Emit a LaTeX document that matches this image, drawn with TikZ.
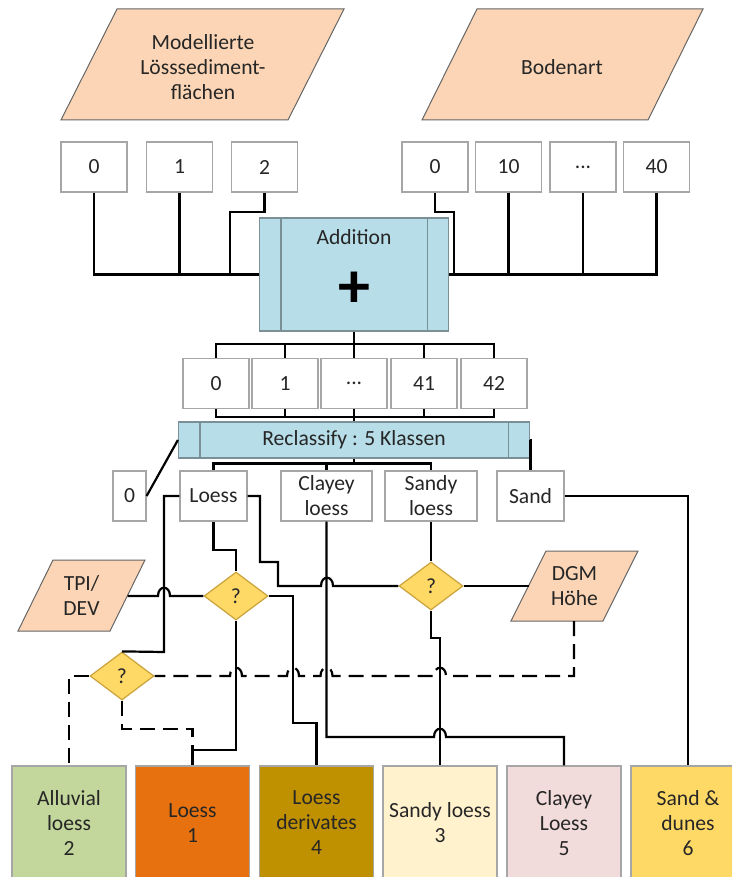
\documentclass[tikz,border=0pt]{standalone}
\usepackage{fontspec}
\setmainfont{Carlito}
\usetikzlibrary{shapes.geometric}

\definecolor{inputpeach}{HTML}{FBD5B5}
\definecolor{procblue}{HTML}{B7DDE8}
\definecolor{decidefill}{HTML}{FFD966}
\definecolor{decideline}{HTML}{C9A23A}
\definecolor{boxline}{HTML}{A6A6A6}
\definecolor{procline}{HTML}{7A8F96}
\definecolor{txt}{HTML}{262626}
\definecolor{clsalluv}{HTML}{C3D69B}
\definecolor{clsloess}{HTML}{E8710F}
\definecolor{clsderiv}{HTML}{BF9000}
\definecolor{clssandy}{HTML}{FFF2CC}
\definecolor{clsclay}{HTML}{F2DCDB}
\definecolor{clssand}{HTML}{FFD966}

\begin{document}
\begin{tikzpicture}[x=0.5pt, y=-0.5pt,
  font=\fontsize{10.8}{12.5}\selectfont, text=txt,
  valbox/.style={draw=boxline, line width=0.6pt, fill=white, minimum width=33pt,
    minimum height=25pt, inner sep=1pt, align=center},
  procbox/.style={draw=procline, line width=0.6pt, fill=procblue, inner sep=1pt},
  inputshape/.style={draw=gray!80!black, line width=0.5pt, fill=inputpeach},
  decide/.style={diamond, draw=decideline, line width=0.6pt, fill=decidefill,
    minimum width=32pt, minimum height=24pt, inner sep=0pt},
  classbox/.style={draw=boxline, line width=0.6pt, minimum width=57pt,
    minimum height=57pt, inner sep=1pt, align=center},
  conn/.style={line width=1.1pt, black},
  dashconn/.style={conn, dash pattern=on 7.5pt off 4pt}]

\useasboundingbox (0,0) rectangle (732,877);
\clip (0,0) rectangle (732,877);

% --- input layers ---
\path[inputshape] (117,9) -- (344,9) -- (288,120) -- (61,120) -- cycle;
\node[align=center] (lss) at (203,67) {Modellierte\\Lösssediment-\\flächen};
\path[inputshape] (477,9) -- (703,9) -- (648,120) -- (422,120) -- cycle;
\node (bodenart) at (562,67) {Bodenart};

% --- value boxes of the two inputs ---
\node[valbox] (a0) at (94,167) {0};
\node[valbox] (a1) at (179.5,167) {1};
\node[valbox] (a2) at (264.5,167) {2};
\node[valbox] (b0) at (435,167) {0};
\node[valbox] (b10) at (508.5,167) {10};
\node[valbox] (bdots) at (583,167) {...};
\node[valbox] (b40) at (656.5,167) {40};

% --- addition step ---
\node[procbox, minimum width=94.5pt, minimum height=56.5pt] (add) at (354,274.5) {};
\draw[procline, line width=0.6pt] ([xshift=11pt]add.north west) -- ([xshift=11pt]add.south west);
\draw[procline, line width=0.6pt] ([xshift=-11pt]add.north east) -- ([xshift=-11pt]add.south east);
\node (addlbl) at (354,237) {Addition};
\node[font=\fontsize{32}{32}\selectfont\bfseries, text=black] (plus) at (354,290) {+};

\draw[conn] (a0.south) |- (add.west);
\draw[conn] (a1.south) -- (a1.south |- add.west);
\draw[conn] (a2.south) |- (230,212) |- (add.west);
\draw[conn] (b0.south) |- (454,212) |- (add.east);
\draw[conn] (add.east) -| (b40.south);
\draw[conn] (b10.south) -- (b10.south |- add.east);
\draw[conn] (bdots.south) -- (bdots.south |- add.east);

% --- summed values ---
\node[valbox] (c0) at (216,383.5) {0};
\node[valbox] (c1) at (285,383.5) {1};
\node[valbox] (cdots) at (354,383.5) {...};
\node[valbox] (c41) at (424,383.5) {41};
\node[valbox] (c42) at (494,383.5) {42};

\draw[conn] (add.south) -- (cdots.north);
\draw[conn] (c0.north) -- ++(0,-14) -| (c42.north);
\draw[conn] (c1.north) -- ++(0,-14);
\draw[conn] (c41.north) -- ++(0,-14);

% --- reclassification ---
\node[procbox, minimum width=175.5pt, minimum height=18pt] (rec) at (354,440) {Reclassify : 5 Klassen};
\draw[procline, line width=0.6pt] ([xshift=11pt]rec.north west) -- ([xshift=11pt]rec.south west);
\draw[procline, line width=0.6pt] ([xshift=-11pt]rec.north east) -- ([xshift=-11pt]rec.south east);

\draw[conn] (c0.south) -- ++(0,8) -| (c42.south);
\draw[conn] (c1.south) -- ++(0,8);
\draw[conn] (c41.south) -- ++(0,8);
\draw[conn] (cdots.south) -- (rec.north);

% --- five classes ---
\node[valbox, minimum width=16.5pt] (zero) at (129.5,496) {0};
\node[valbox, minimum width=33.5pt] (loess) at (213.5,496) {Loess};
\node[valbox, minimum width=45.5pt] (clayey) at (326.5,496) {Clayey\\loess};
\node[valbox, minimum width=46pt] (sandy) at (431,496) {Sandy\\loess};
\node[valbox, minimum width=33.5pt] (sand) at (530.5,496) {Sand};

\draw[conn] (zero.east) -- (rec.west);
\draw[conn] (rec.south) -- ++(0,6);
\draw[conn] (loess.north) -- ++(0,-7) -| (sandy.north);
\draw[conn] (clayey.north) -- ++(0,-7);
\draw[conn] (rec.east) -| (sand.north);

% --- additional inputs ---
\path[inputshape] (53,560) -- (145,560) -- (110,631) -- (18,631) -- cycle;
\node[align=center] (tpi) at (81.5,595.5) {TPI/\\DEV};
\coordinate (tpiR) at (127.5,596);
\path[inputshape] (546,551) -- (638,551) -- (603,621) -- (511,621) -- cycle;
\node[align=center] (dgm) at (574.5,586) {DGM\\Höhe};
\coordinate (dgmL) at (528.5,586);
\coordinate (dgmB) at (574,621);

% --- decisions ---
\node[decide] (d1) at (236,596) {?};
\node[decide] (d2) at (122,676) {?};
\node[decide] (d3) at (431,586) {?};

% --- final classes ---
\node[classbox, fill=clsalluv] (alluv) at (69,823) {Alluvial\\loess\\2};
\node[classbox, fill=clsloess] (cl1) at (192.5,823) {Loess\\1};
\node[classbox, fill=clsderiv] (cl4) at (316.5,823) {Loess\\derivates\\4};
\node[classbox, fill=clssandy] (cl3) at (440,823) {Sandy loess\\3};
\node[classbox, fill=clsclay] (cl5) at (564,823) {Clayey\\Loess\\5};
\node[classbox, fill=clssand] (cl6) at (688,823) {Sand \&\\dunes\\6};

\coordinate (j1) at (192.5,750);

% --- decision wiring ---
\draw[conn] (tpiR) -- (158,596) .. controls (158,585) and (170,585) .. (170,596) -- (d1.west);
\draw[conn] (loess.west) -| (164,652) -- (d2.north);
\draw[conn] (loess.south) -- ++(0,28) -| (d1.north);
\draw[conn] (loess.east) -| (260,562) -| (278,586) -- (321,586)
  .. controls (321,575) and (333,575) .. (333,586) -- (d3.west);
\draw[conn] (clayey.south) |- (434,737) .. controls (434,726) and (446,726) .. (446,737) -| (cl5.north);
\draw[conn] (sandy.south) -- (d3.north);
\draw[conn] (d3.east) -- (dgmL);
\draw[conn] (d3.south) |- (440,638) -- (cl3.north);
\draw[conn] (d1.south) |- (j1) -- (cl1.north);
\draw[conn] (d1.east) -| (293,723) -| (cl4.north);
\draw[conn] (sand.east) -| (cl6.north);

\draw[dashconn] (dgmB) |- (446,676) .. controls (446,665) and (434,665) .. (434,676)
  -- (332.5,676) .. controls (332.5,665) and (320.5,665) .. (320.5,676)
  -- (299,676) .. controls (299,665) and (287,665) .. (287,676)
  -- (242,676) .. controls (242,665) and (230,665) .. (230,676) -- (d2.east);
\draw[dashconn] (d2.west) -| (alluv.north);
\draw[dashconn] (d2.south) |- (192.5,729) -- (j1);
\end{tikzpicture}
\end{document}
